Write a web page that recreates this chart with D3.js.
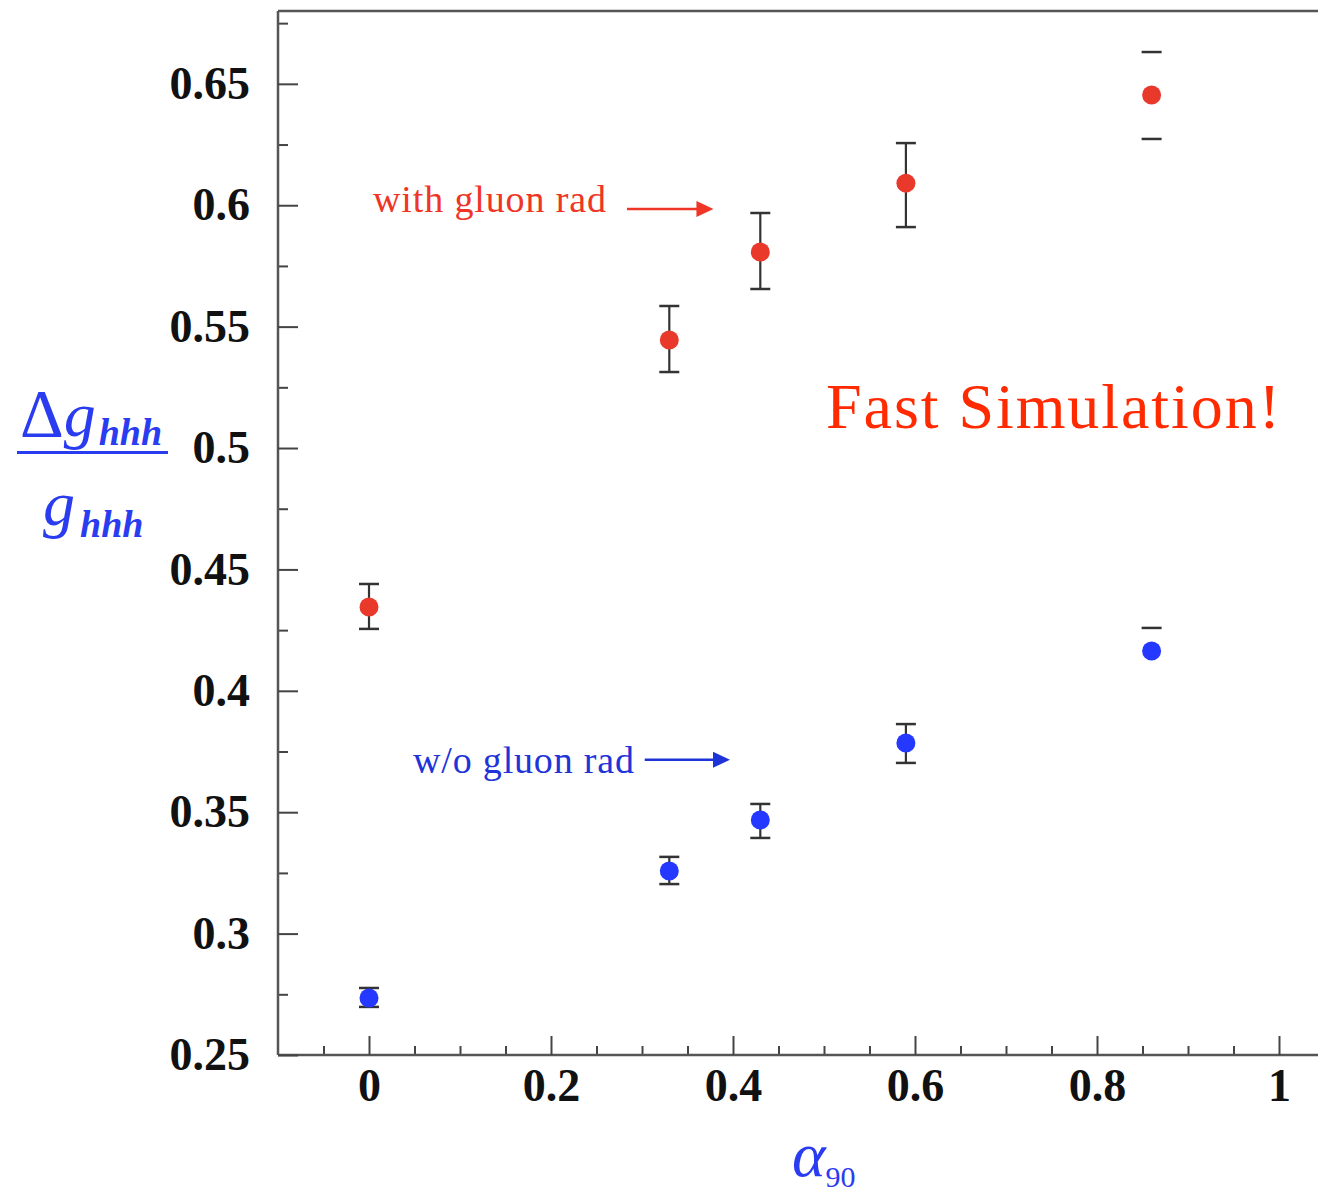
<!DOCTYPE html>
<html><head><meta charset="utf-8">
<script src="https://cdn.jsdelivr.net/npm/d3@7"></script>
<style>body{margin:0;background:#fff;} svg{display:block}</style>
</head><body><svg id="c" width="1318" height="1197"></svg>
<script>
// ---- data ----
const alphaValues = [0, 0.33, 0.43, 0.59, 0.86];
const withGluon = [0.4345, 0.5445, 0.5807, 0.6091, 0.6454];
const withGluonErrUp = [0.0095, 0.0140, 0.0161, 0.0165, 0.0177];
const withGluonErrDown = [0.0090, 0.0132, 0.0152, 0.0181, 0.0181];
const withoutGluon = [0.2735, 0.3258, 0.3468, 0.3785, 0.4164];
const withoutGluonErrUp = [0.0041, 0.0058, 0.0066, 0.0078, 0.0095];
const withoutGluonErrDown = [0.0037, 0.0054, 0.0074, 0.0082, null];
const stemVisible = [true, true, true, true, false];
const xTicks = [0, 0.2, 0.4, 0.6, 0.8, 1];
const xTickLabels = ["0", "0.2", "0.4", "0.6", "0.8", "1"];
const yTicks = [0.25, 0.3, 0.35, 0.4, 0.45, 0.5, 0.55, 0.6, 0.65];
const yTickLabels = ["0.25", "0.3", "0.35", "0.4", "0.45", "0.5", "0.55", "0.6", "0.65"];

// ---- layout ----
const svg = d3.select("#c");
const x = d3.scaleLinear().domain([-0.1, 1.1]).range([278, 1370]);
const y = d3.scaleLinear().domain([0.25, 0.68]).range([1055, 11]);

const RED = "#e8392b", BLUE = "#2438ff", LBLUE = "#2a3cf0", TRED = "#ee3526";
const tickFont = "'Liberation Serif', 'Times New Roman', serif";

// frame top
svg.append("line").attr("x1", 278).attr("x2", 1370).attr("y1", 11).attr("y2", 11)
  .attr("stroke", "#555").attr("stroke-width", 2.5);

// minor ticks
const xMinor = d3.range(-0.05, 1.1, 0.05).filter(v => !xTicks.some(t => Math.abs(t - v) < 1e-6));
const yMinor = d3.range(0.275, 0.68, 0.05);

svg.append("g").attr("transform", "translate(0,1055)")
  .call(d3.axisBottom(x).tickValues(xMinor).tickSize(-9).tickSizeOuter(0).tickFormat(""))
  .call(g => g.select(".domain").remove())
  .call(g => g.selectAll("line").attr("stroke", "#444").attr("stroke-width", 2));
svg.append("g").attr("transform", "translate(278,0)")
  .call(d3.axisLeft(y).tickValues(yMinor).tickSize(-10).tickSizeOuter(0).tickFormat(""))
  .call(g => g.select(".domain").remove())
  .call(g => g.selectAll("line").attr("stroke", "#444").attr("stroke-width", 2));

// major axes
const xAxis = svg.append("g").attr("transform", "translate(0,1055)")
  .call(d3.axisBottom(x).tickValues(xTicks).tickSize(-19).tickSizeOuter(0)
    .tickPadding(13).tickFormat((d, i) => xTickLabels[i]));
const yAxis = svg.append("g").attr("transform", "translate(278,0)")
  .call(d3.axisLeft(y).tickValues(yTicks).tickSize(-20).tickSizeOuter(0)
    .tickPadding(28).tickFormat((d, i) => yTickLabels[i]));
[xAxis, yAxis].forEach(g => {
  g.select(".domain").attr("stroke", "#555").attr("stroke-width", 2.5);
  g.selectAll("line").attr("stroke", "#444").attr("stroke-width", 2);
  g.selectAll("text").attr("font-family", tickFont).attr("font-weight", "bold")
    .attr("font-size", 46).attr("fill", "#111");
});
yAxis.select(".domain").attr("d", `M0,${y(0.68)}V${y(0.25)}`);
xAxis.select(".domain").attr("d", `M${x(-0.1)},0H${x(1.1)}`);

// ---- series ----
function drawSeries(vals, up, down, color) {
  const g = svg.append("g");
  const data = alphaValues.map((a, i) => ({ a, v: vals[i], up: up[i], down: down[i], stem: stemVisible[i] }));
  const capW = 10;
  data.forEach(d => {
    const cx = x(d.a);
    if (d.stem && d.up != null && d.down != null) {
      g.append("line").attr("x1", cx).attr("x2", cx)
        .attr("y1", y(d.v + d.up)).attr("y2", y(d.v - d.down))
        .attr("stroke", "#333").attr("stroke-width", 2.2);
    }
    if (d.up != null) g.append("line").attr("x1", cx - capW).attr("x2", cx + capW)
      .attr("y1", y(d.v + d.up)).attr("y2", y(d.v + d.up)).attr("stroke", "#333").attr("stroke-width", 2.5);
    if (d.down != null) g.append("line").attr("x1", cx - capW).attr("x2", cx + capW)
      .attr("y1", y(d.v - d.down)).attr("y2", y(d.v - d.down)).attr("stroke", "#333").attr("stroke-width", 2.5);
  });
  g.selectAll("circle").data(data).join("circle")
    .attr("cx", d => x(d.a)).attr("cy", d => y(d.v)).attr("r", 9.5).attr("fill", color);
}
drawSeries(withGluon, withGluonErrUp, withGluonErrDown, RED);
drawSeries(withoutGluon, withoutGluonErrUp, withoutGluonErrDown, BLUE);

// ---- annotations ----
function arrow(x1, x2, yy, color) {
  svg.append("line").attr("x1", x1).attr("x2", x2 - 14).attr("y1", yy).attr("y2", yy)
    .attr("stroke", color).attr("stroke-width", 2.5);
  svg.append("path").attr("d", `M${x2},${yy}L${x2 - 17},${yy - 8}L${x2 - 17},${yy + 8}Z`).attr("fill", color);
}
svg.append("text").attr("x", 373).attr("y", 212).attr("font-family", tickFont)
  .attr("font-size", 38).attr("fill", TRED).attr("textLength", 233).text("with gluon rad");
arrow(x(0.2835), x(0.3785), y(0.5984), TRED);
svg.append("text").attr("x", 413).attr("y", 773).attr("font-family", tickFont)
  .attr("font-size", 38).attr("fill", "#1f34d8").attr("textLength", 221).text("w/o gluon rad");
arrow(x(0.303), x(0.3967), y(0.3716), "#1f34d8");

svg.append("text").attr("x", 826).attr("y", 428).attr("font-family", tickFont)
  .attr("font-size", 64).attr("fill", "#ff2a00").attr("textLength", 454).text("Fast Simulation!");

// y label (fraction)
const yl = svg.append("g").attr("fill", LBLUE).attr("font-family", tickFont);
const num = yl.append("text").attr("x", 20).attr("y", 436);
num.append("tspan").attr("font-size", 68).text("Δ");
num.append("tspan").attr("font-size", 64).attr("font-style", "italic").text("g");
num.append("tspan").attr("font-size", 38).attr("font-style", "italic").attr("font-weight", "bold")
  .attr("dx", 3).attr("dy", 9).text("hhh");
yl.append("rect").attr("x", 17).attr("y", 451).attr("width", 151).attr("height", 3);
const den = yl.append("text").attr("x", 43).attr("y", 525);
den.append("tspan").attr("font-size", 64).attr("font-style", "italic").text("g");
den.append("tspan").attr("font-size", 38).attr("font-style", "italic").attr("font-weight", "bold")
  .attr("dx", 5).attr("dy", 12).text("hhh");

// x label
const xl = svg.append("text").attr("x", 792).attr("y", 1176).attr("fill", LBLUE).attr("font-family", tickFont);
xl.append("tspan").attr("font-size", 64).attr("font-style", "italic").text("α");
xl.append("tspan").attr("font-size", 30).attr("dy", 11).text("90");
</script>
</body></html>
